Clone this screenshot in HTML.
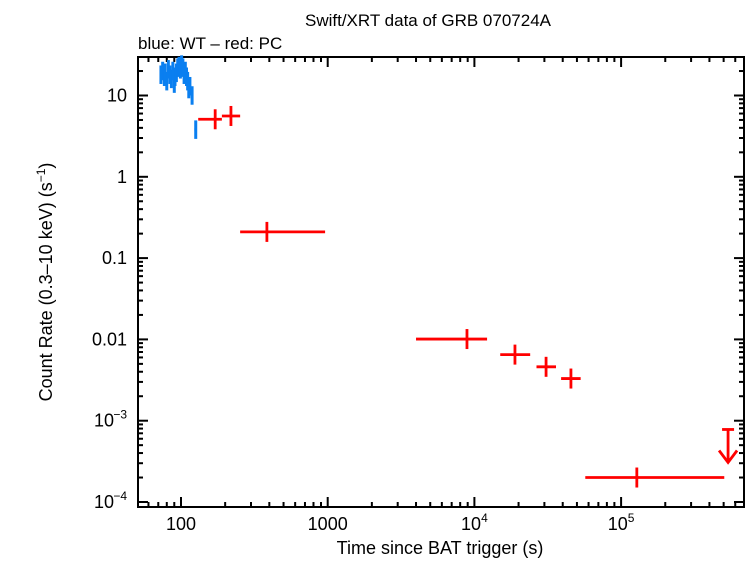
<!DOCTYPE html>
<html><head><meta charset="utf-8"><style>
body{margin:0;background:#fff;}
svg text{font-family:"Liberation Sans",sans-serif;}
</style></head><body>
<svg id="chart" width="746" height="558" xmlns="http://www.w3.org/2000/svg">
<text x="428" y="26" font-size="17" text-anchor="middle">Swift/XRT data of GRB 070724A</text>
<text x="138" y="49" font-size="17">blue: WT – red: PC</text>
<text x="440" y="554" font-size="18" text-anchor="middle">Time since BAT trigger (s)</text>
<text transform="translate(52,282) rotate(-90)" font-size="18" text-anchor="middle">Count Rate (0.3–10 keV) (s<tspan font-size="12" dy="-7">−1</tspan><tspan dy="7">)</tspan></text>
<g id="axes"></g><g id="data"></g>
</svg>
<script>
// data
const wtT  = [73,75,77,78,80,82,84,86,88,90,91,93,95,97,99,101,103,105,107,109,111,113,115,119,126];
const wtR  = [18,20,17,19,15,21,18,16,20,14,17,19,22,23,21,24,22,18,20,17,15,12,13,10,3.8];
const pcT  = [171,219,385,8900,18900,30800,45500,128000];
const pcLo = [131,190,253,4000,15000,26500,39000,57000];
const pcHi = [190,253,960,12200,24000,36000,53000,505000];
const pcR  = [5.1,5.6,0.21,0.0101,0.0065,0.0046,0.0033,0.0002];
const ulT = [536000];
const ulR = [0.00078];

const L=138,R=744,T=57,B=507;
const X=t=>181+(Math.log10(t)-2)*146.7;
const Y=r=>502-(Math.log10(r)+4)*81.3;
const NS="http://www.w3.org/2000/svg";
function mk(tag,attrs,parent){const e=document.createElementNS(NS,tag);for(const k in attrs)e.setAttribute(k,attrs[k]);parent.appendChild(e);return e;}
const ax=document.getElementById('axes'), dg=document.getElementById('data');
const frame=mk('rect',{x:L,y:T,width:R-L,height:B-T,fill:'none',stroke:'#000','stroke-width':2},ax);


for(let d=1;d<=5;d++)for(let m=1;m<10;m++){
  const t=m*Math.pow(10,d);const x=X(t);if(x<L||x>R)continue;
  const len=m===1?10:5;
  mk('line',{x1:x,x2:x,y1:B,y2:B-len,stroke:'#000','stroke-width':2},ax);
  mk('line',{x1:x,x2:x,y1:T,y2:T+len,stroke:'#000','stroke-width':2},ax);
}
const xl=[[100,"100"],[1000,"1000"],[1e4,"10","4"],[1e5,"10","5"]];
xl.forEach(v=>{const tx=mk('text',{x:X(v[0]),y:530,'font-size':18,'text-anchor':'middle'},ax);
  
  
  tx.textContent=v[1];if(v[2]){const s=mk('tspan',{dy:-8,'font-size':12},tx);s.textContent=v[2];}});
for(let d=-4;d<=1;d++)for(let m=1;m<10;m++){
  const r=m*Math.pow(10,d);const y=Y(r);if(y<T||y>B)continue;
  const len=m===1?10:5;
  mk('line',{x1:L,x2:L+len,y1:y,y2:y,stroke:'#000','stroke-width':2},ax);
  mk('line',{x1:R,x2:R-len,y1:y,y2:y,stroke:'#000','stroke-width':2},ax);
}
const yl=[[10,"10"],[1,"1"],[0.1,"0.1"],[0.01,"0.01"],[1e-3,"10","−3"],[1e-4,"10","−4"]];
yl.forEach(v=>{const tx=mk('text',{x:v[2]?114:127,y:Y(v[0])+6,'font-size':18,'text-anchor':'end'},ax);
  
  
  tx.textContent=v[1];if(v[2]){const s=mk('tspan',{x:127,dy:-8,'font-size':12,'text-anchor':'end'},tx);s.textContent=v[2];}});
wtT.forEach((t,i)=>{const g=mk('g',{},dg);
  
  
  const r=wtR[i],x=X(t),y=Y(r);
  mk('line',{x1:X(t*0.98),x2:X(t*1.02),y1:y,y2:y,stroke:'#0a7ff0','stroke-width':3},g);
  mk('line',{x1:x,x2:x,y1:Y(r*1.3),y2:Y(r*0.77),stroke:'#0a7ff0','stroke-width':3},g);
});
pcT.forEach((t,i)=>{const g=mk('g',{},dg);
  
  
  const r=pcR[i],x=X(t),y=Y(r);
  mk('line',{x1:X(pcLo[i]),x2:X(pcHi[i]),y1:y,y2:y,stroke:'#f00','stroke-width':2.8},g);
  mk('line',{x1:x,x2:x,y1:y-10,y2:y+10,stroke:'#f00','stroke-width':2.8},g);
});
ulT.forEach((t,i)=>{const g=mk('g',{},dg);
  
  
  const x=X(t),y=Y(ulR[i]);
  mk('line',{x1:x-6,x2:x+6,y1:y,y2:y,stroke:'#f00','stroke-width':2.8},g);
  mk('line',{x1:x,x2:x,y1:y,y2:y+32,stroke:'#f00','stroke-width':2.8},g);
  mk('polyline',{points:`${x-9},${y+21} ${x},${y+33} ${x+9},${y+21}`,fill:'none',stroke:'#f00','stroke-width':2.8},g);
});
</script>
</body></html>
